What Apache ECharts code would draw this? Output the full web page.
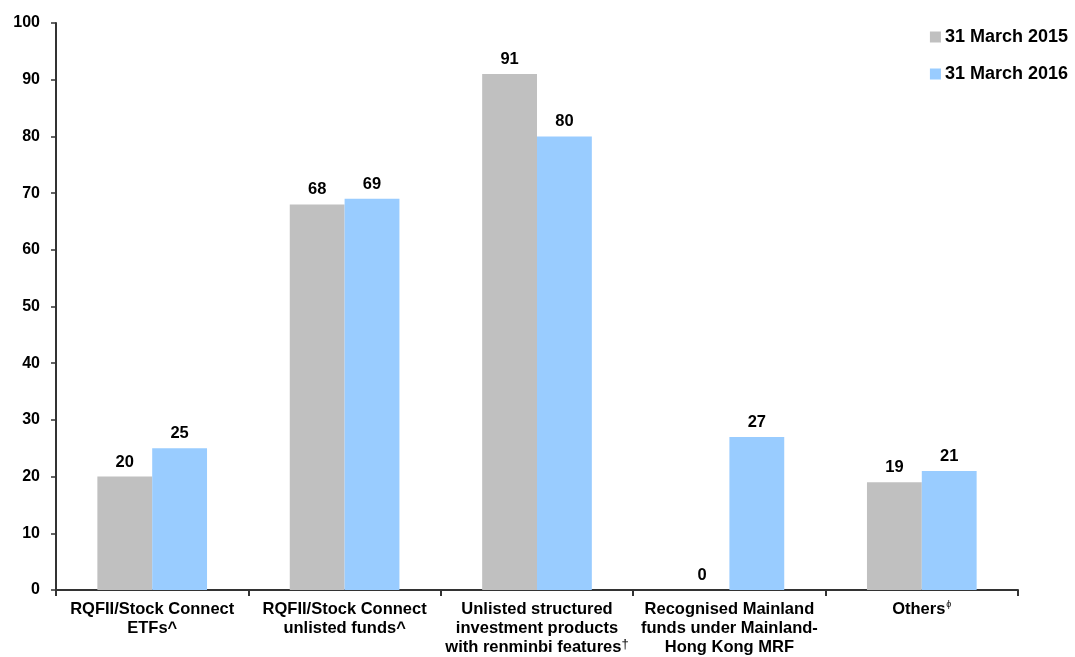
<!DOCTYPE html>
<html><head><meta charset="utf-8">
<script src="https://cdn.jsdelivr.net/npm/echarts@6/dist/echarts.min.js"></script>
<style>html,body{margin:0;padding:0;background:#fff}#c{width:1075px;height:657px}</style>
</head><body><div id="c"></div>
<script>
var categories = [
  'RQFII/Stock Connect\nETFs^',
  'RQFII/Stock Connect\nunlisted funds^',
  'Unlisted structured\ninvestment products\nwith renminbi features{sup|†}',
  'Recognised Mainland\nfunds under Mainland-\nHong Kong MRF',
  'Others{sup2|ϕ}'
];
var seriesNames = ['31 March 2015', '31 March 2016'];
var values2015 = [20, 68, 91, 0, 19];
var values2016 = [25, 69, 80, 27, 21];
var yTicks = { min: 0, max: 100, interval: 10 };

var font = '"Liberation Sans", Arial, sans-serif';
var chart = echarts.init(document.getElementById('c'));
var labelStyle = { show: true, position: 'top', color: '#000', fontWeight: 'bold', fontSize: 16.5, fontFamily: font, distance: 6 };
chart.setOption({
  animation: false,
  grid: { left: 56, right: 57, top: 23, bottom: 67, containLabel: false },
  legend: {
    orient: 'vertical', right: 2, top: 23, itemWidth: 11, itemHeight: 11, itemGap: 19,
    icon: 'rect',
    textStyle: { fontWeight: 'bold', fontSize: 18, fontFamily: font, color: '#000', padding: [0, 0, 0, -1] },
    data: seriesNames
  },
  xAxis: {
    type: 'category', data: categories,
    axisLine: { lineStyle: { color: '#333', width: 2 } },
    axisTick: { show: true, length: 6, lineStyle: { color: '#333', width: 2 } },
    axisLabel: {
      interval: 0, color: '#000', fontWeight: 'bold', fontSize: 16.5, fontFamily: font, lineHeight: 19, margin: 10,
      rich: {
        sup: { fontSize: 13, fontWeight: 'normal', verticalAlign: 'top', padding: [0, 0, 6, 0], color: '#000', fontFamily: font },
        sup2: { fontSize: 9, fontWeight: 'normal', verticalAlign: 'top', padding: [0, 0, 8, 1], color: '#000', fontFamily: font }
      }
    }
  },
  yAxis: {
    type: 'value', min: yTicks.min, max: yTicks.max, interval: yTicks.interval,
    splitLine: { show: false },
    axisLine: { show: true, lineStyle: { color: '#333', width: 2 } },
    axisTick: { show: true, length: 5, lineStyle: { color: '#333', width: 1.5 } },
    axisLabel: { color: '#000', fontWeight: 'bold', fontSize: 16, fontFamily: font, margin: 16 }
  },
  series: [
    { name: seriesNames[0], type: 'bar', data: values2015, barGap: '0%', barCategoryGap: '43%',
      itemStyle: { color: '#c0c0c0' }, label: labelStyle },
    { name: seriesNames[1], type: 'bar', data: values2016, barGap: '0%', barCategoryGap: '43%',
      itemStyle: { color: '#99ccff' }, label: labelStyle }
  ]
});
</script></body></html>
